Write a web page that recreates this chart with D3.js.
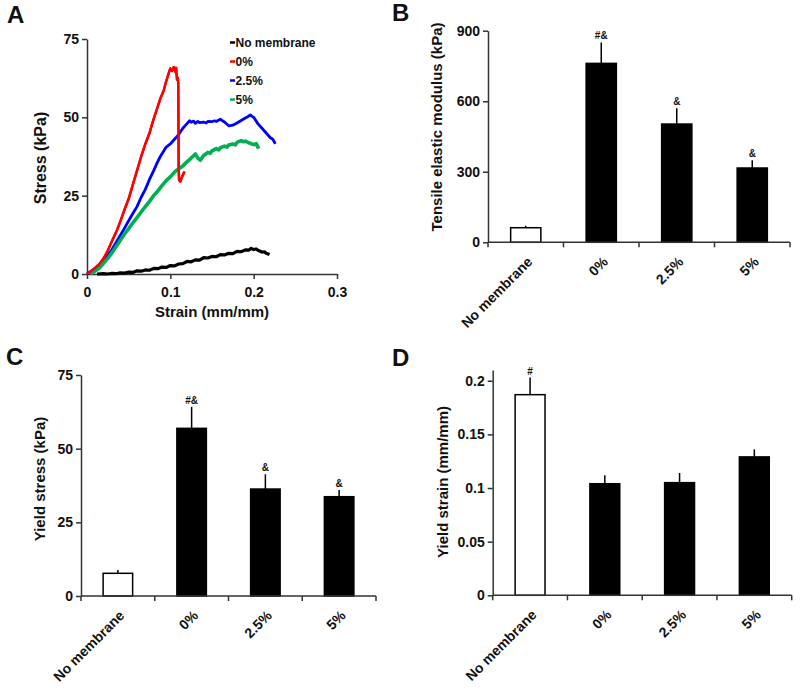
<!DOCTYPE html>
<html>
<head>
<meta charset="utf-8">
<script src="https://cdn.jsdelivr.net/npm/d3@7"></script>
<style>
body { margin: 0; background: #fff; }
svg text { font-family: "Liberation Sans", Arial, sans-serif; font-weight: bold; fill: #111; }
</style>
</head>
<body>
<svg width="800" height="691"></svg>
<script>
// ---- panel A : stress-strain curves, [strain (mm/mm), stress (kPa)]
var noMembrane = [[0.012,0],[0.02,0.1],[0.025,0],[0.03,0.2],[0.035,0.1],[0.04,0.4],[0.045,0.3],[0.05,0.6],[0.055,0.5],
  [0.06,1.0],[0.065,0.9],[0.07,1.3],[0.075,1.2],[0.08,1.8],[0.085,1.7],[0.09,2.2],[0.095,2.1],[0.1,2.7],[0.105,2.6],
  [0.11,3.2],[0.115,3.3],[0.12,4.0],[0.125,3.9],[0.13,4.5],[0.135,4.4],[0.14,5.2],[0.145,5.1],[0.15,5.6],[0.155,5.5],
  [0.16,6.2],[0.165,6.1],[0.17,6.6],[0.175,6.5],[0.18,7.2],[0.185,7.1],[0.19,7.7],[0.194,7.6],[0.197,8.2],[0.2,7.8],
  [0.203,8.0],[0.205,7.6],[0.21,7.0],[0.213,7.1],[0.215,6.6],[0.219,6.2]];
var pct0 = [[0,0],[0.005,0.9],[0.01,2],[0.015,3.2],[0.02,5],[0.025,7.5],[0.03,10.5],[0.036,14],[0.04,16.8],
  [0.045,20.5],[0.05,24],[0.055,28.5],[0.06,33],[0.065,37.5],[0.07,41.5],[0.075,45],[0.08,49.5],[0.085,53.5],
  [0.088,56],[0.092,58.5],[0.095,61.5],[0.098,64],[0.1,65.6],[0.102,64.8],[0.104,66],[0.106,64.5],[0.107,65.8],
  [0.108,62],[0.109,62.6],[0.1095,61],[0.1098,46],[0.110,34],[0.1105,30],[0.112,29.5],[0.114,31],[0.117,32.7]];
var pct25 = [[0,0],[0.01,1.8],[0.02,4.2],[0.03,7.8],[0.0436,14],[0.05,17],[0.055,19.3],[0.06,21.5],[0.065,24.5],
  [0.07,27],[0.075,30.2],[0.08,33],[0.084,35.4],[0.088,37.5],[0.095,40.5],[0.1,41.5],[0.105,43],[0.11,44.5],
  [0.115,46.5],[0.12,48],[0.123,48.9],[0.125,48.4],[0.128,48.8],[0.13,48.1],[0.133,48.7],[0.135,48.3],[0.14,48.5],
  [0.143,48.2],[0.145,48.7],[0.15,48.6],[0.153,48.9],[0.155,48.7],[0.16,49.4],[0.162,49],[0.165,48.5],[0.17,47.3],
  [0.175,47.5],[0.18,48.2],[0.185,49],[0.19,49.8],[0.193,50.2],[0.196,50.8],[0.198,50.3],[0.2,50],[0.205,48],
  [0.21,46.5],[0.215,45],[0.22,43.5],[0.223,43],[0.226,41.5]];
var pct5 = [[0.004,0],[0.01,1],[0.015,2],[0.02,3.5],[0.025,5],[0.03,6.8],[0.035,8.8],[0.04,10.8],[0.045,12.8],
  [0.05,14.5],[0.055,16.3],[0.06,18],[0.065,19.8],[0.07,21.5],[0.075,23.2],[0.08,25],[0.085,26.5],[0.09,28.2],
  [0.095,29.8],[0.1,31],[0.105,32.5],[0.11,33.6],[0.115,34.5],[0.12,35.8],[0.125,37],[0.13,38.3],[0.133,37],
  [0.136,36.3],[0.14,37.8],[0.145,38.8],[0.148,38.5],[0.15,39.3],[0.155,40],[0.158,39.6],[0.16,40.3],[0.165,40.8],
  [0.168,40.5],[0.17,41.2],[0.175,41.5],[0.178,41.2],[0.18,42],[0.185,42.6],[0.188,42.2],[0.19,42.4],[0.195,41.8],
  [0.2,41.3],[0.203,41.6],[0.205,40.5],[0.207,40.8]];
var curveNames = ["No membrane", "0%", "2.5%", "5%"];
var curveColors = ["#000000", "#ff0000", "#0000ff", "#00b050"];
var strainTicks = [0, 0.1, 0.2, 0.3];
var stressTicks = [0, 25, 50, 75];

// ---- panels B, C, D : bar charts (mean, upper error)
var groups = ["No membrane", "0%", "2.5%", "5%"];
var modulus = [62, 761, 503, 316];
var modulusErr = [8, 89, 67, 33];
var modulusSig = ["", "#&", "&", "&"];
var modulusTicks = [0, 300, 600, 900];
var yieldStress = [7.7, 56.9, 36.3, 33.7];
var yieldStressErr = [1.1, 7.3, 5, 2.3];
var yieldStressSig = ["", "#&", "&", "&"];
var yieldStressTicks = [0, 25, 50, 75];
var yieldStrain = [0.187, 0.104, 0.105, 0.129];
var yieldStrainErr = [0.016, 0.008, 0.009, 0.007];
var yieldStrainSig = ["#", "", "", ""];
var yieldStrainTicks = [0, 0.05, 0.1, 0.15, 0.2];

var svg = d3.select("svg");
var axisColor = "#333";

function styleAxis(g) {
  g.selectAll("path, line").attr("stroke", axisColor).attr("stroke-width", 1.5);
  g.selectAll("text").attr("font-size", 14).attr("fill", "#111");
}

function panelLetter(txt, x, y) {
  svg.append("text").attr("x", x).attr("y", y).attr("font-size", 24).text(txt);
}

function yTitle(txt, cx, cy, size) {
  svg.append("text")
    .attr("transform", "translate(" + cx + "," + cy + ") rotate(-90)")
    .attr("text-anchor", "middle").attr("dy", "0.35em")
    .attr("font-size", size || 15).text(txt);
}

// ---------------- panel A
var xA = d3.scaleLinear().domain([0, 0.3]).range([87, 337]);
var yA = d3.scaleLinear().domain([0, 75]).range([274, 39]);

svg.append("g").attr("transform", "translate(0,274)")
  .call(d3.axisBottom(xA).tickValues(strainTicks).tickSize(5).tickSizeOuter(0).tickPadding(8)
    .tickFormat(function(d) { return d; }))
  .call(styleAxis);
svg.append("g").attr("transform", "translate(87,0)")
  .call(d3.axisLeft(yA).tickValues(stressTicks).tickSize(5).tickSizeOuter(0).tickPadding(3))
  .call(styleAxis);

var line = d3.line().x(function(d) { return xA(d[0]); }).y(function(d) { return yA(d[1]); });
var curves = [noMembrane, pct0, pct25, pct5];
var widths = [3.2, 2.4, 2.8, 3.6];
curves.forEach(function(c, i) {
  svg.append("path").datum(c)
    .attr("d", line)
    .attr("fill", "none")
    .attr("stroke", curveColors[i])
    .attr("stroke-width", widths[i])
    .attr("stroke-linejoin", "round");
});
// red drawn on top of the others like in the figure
svg.append("path").datum(pct0).attr("d", line).attr("fill", "none")
  .attr("stroke", curveColors[1]).attr("stroke-width", 2.4).attr("stroke-linejoin", "round");

var legend = svg.append("g").attr("transform", "translate(230,47)");
curveNames.forEach(function(n, i) {
  var row = legend.append("g").attr("transform", "translate(0," + (i * 19) + ")");
  row.append("line").attr("x1", 0).attr("x2", 5).attr("y1", -4.5).attr("y2", -4.5)
    .attr("stroke", curveColors[i]).attr("stroke-width", 2.5);
  row.append("text").attr("x", 5.5).attr("y", 0).attr("font-size", 12).text(n);
});

svg.append("text").attr("x", 212).attr("y", 317).attr("text-anchor", "middle")
  .attr("font-size", 15).text("Strain (mm/mm)");
yTitle("Stress (kPa)", 40, 158, 16);
panelLetter("A", 7, 23);

// ---------------- bar panels
function barPanel(cfg) {
  var x = d3.scaleBand().domain(groups).range([cfg.x0, cfg.x1]).paddingInner(0.6).paddingOuter(0.3);
  var y = d3.scaleLinear().domain([0, cfg.ymax]).range([cfg.y0, cfg.y1]);
  var g = svg.append("g");

  g.selectAll(".bar").data(cfg.values).enter().append("rect")
    .attr("class", "bar")
    .attr("x", function(d, i) { return x(groups[i]); })
    .attr("width", x.bandwidth())
    .attr("y", function(d) { return y(d); })
    .attr("height", function(d) { return cfg.y0 - y(d); })
    .attr("fill", function(d, i) { return i == 0 ? "#fff" : "#000"; })
    .attr("stroke", "#000").attr("stroke-width", 1.5);

  g.selectAll(".err").data(cfg.values).enter().append("line")
    .attr("class", "err")
    .attr("x1", function(d, i) { return x(groups[i]) + x.bandwidth() / 2; })
    .attr("x2", function(d, i) { return x(groups[i]) + x.bandwidth() / 2; })
    .attr("y1", function(d) { return y(d); })
    .attr("y2", function(d, i) { return y(d + cfg.errs[i]); })
    .attr("stroke", "#000").attr("stroke-width", 1.5);

  g.selectAll(".sig").data(cfg.values).enter().append("text")
    .attr("class", "sig")
    .attr("x", function(d, i) { return x(groups[i]) + x.bandwidth() / 2; })
    .attr("y", function(d, i) { return y(d + cfg.errs[i]) - 3; })
    .attr("text-anchor", "middle").attr("font-size", 10)
    .text(function(d, i) { return cfg.sigs[i]; });

  svg.append("g").attr("transform", "translate(" + cfg.x0 + ",0)")
    .call(d3.axisLeft(y).tickValues(cfg.ticks).tickSize(5).tickSizeOuter(0).tickPadding(3)
      .tickFormat(function(d) { return d; }))
    .call(styleAxis);

  // x axis: baseline with ticks at group boundaries
  svg.append("line").attr("x1", cfg.x0).attr("x2", cfg.x1).attr("y1", cfg.y0).attr("y2", cfg.y0)
    .attr("stroke", axisColor).attr("stroke-width", 1.5);
  d3.range(groups.length + 1).forEach(function(i) {
    var bx = cfg.x0 + i * x.step();
    svg.append("line").attr("x1", bx).attr("x2", bx).attr("y1", cfg.y0).attr("y2", cfg.y0 + 5)
      .attr("stroke", axisColor).attr("stroke-width", 1.5);
  });
  groups.forEach(function(n) {
    var cx = x(n) + x.bandwidth() / 2;
    svg.append("text")
      .attr("transform", "translate(" + (cx + 4) + "," + (cfg.y0 + 17) + ") rotate(-45)")
      .attr("text-anchor", "end").attr("dy", "0.35em")
      .attr("font-size", 14).text(n);
  });

  yTitle(cfg.title, cfg.tx, cfg.ty);
  panelLetter(cfg.letter, cfg.lx, cfg.ly);
}

barPanel({ x0: 488, x1: 790, y0: 242.3, y1: 30.7, ymax: 900, ticks: modulusTicks,
  values: modulus, errs: modulusErr, sigs: modulusSig,
  title: "Tensile elastic modulus (kPa)", tx: 437, ty: 127, letter: "B", lx: 392, ly: 21 });

barPanel({ x0: 81, x1: 376, y0: 596, y1: 375, ymax: 75, ticks: yieldStressTicks,
  values: yieldStress, errs: yieldStressErr, sigs: yieldStressSig,
  title: "Yield stress (kPa)", tx: 40, ty: 479, letter: "C", lx: 6, ly: 365 });

barPanel({ x0: 492.7, x1: 791.7, y0: 595.3, y1: 370, ymax: 0.21, ticks: yieldStrainTicks,
  values: yieldStrain, errs: yieldStrainErr, sigs: yieldStrainSig,
  title: "Yield strain (mm/mm)", tx: 443, ty: 482, letter: "D", lx: 392, ly: 366 });
</script>
</body>
</html>
